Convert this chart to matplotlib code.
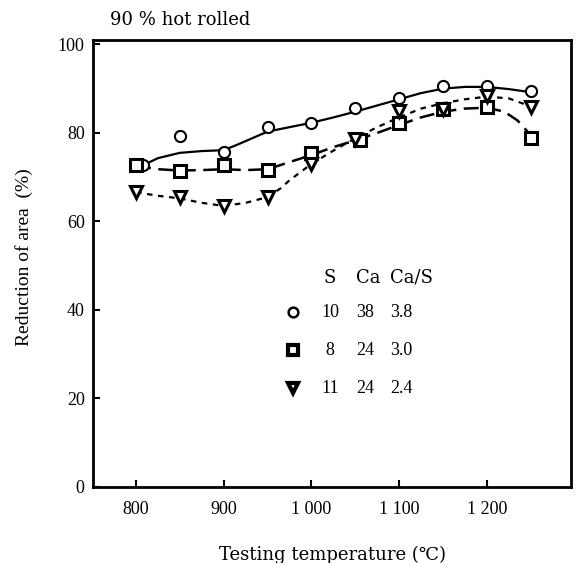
import numpy as np
import matplotlib
matplotlib.use("Agg")
import matplotlib.pyplot as plt

plt.rcParams['font.family'] = ['Liberation Serif', 'DejaVu Serif']

# measured points (testing temperature, reduction of area %)
circle_t = [808, 850, 900, 950, 1000, 1050, 1100, 1150, 1200, 1250]
circle_ra = [72.7, 79.2, 75.6, 81.3, 82.2, 85.6, 87.8, 90.7, 90.7, 89.4]
square_t = [800, 850, 900, 950, 1000, 1055, 1100, 1150, 1200, 1250]
square_ra = [72.7, 71.3, 72.7, 71.6, 75.4, 78.3, 82.2, 85.3, 85.8, 78.8]
tri_t = [800, 850, 900, 950, 1000, 1050, 1100, 1150, 1200, 1250]
tri_ra = [66.6, 65.5, 63.4, 65.5, 73.0, 78.6, 85.0, 85.5, 88.3, 85.8]

# hand-drawn trend curves
circle_curve_t = [808, 825, 850, 875, 900, 915, 950, 975, 1000, 1025, 1050, 1075, 1100,
                  1125, 1150, 1175, 1200, 1225, 1250]
circle_curve_ra = [72.7, 74.3, 75.5, 75.9, 76.1, 77.3, 80.3, 81.3, 82.3, 83.5, 84.8, 86.2,
                   87.6, 89.0, 90.0, 90.4, 90.4, 89.9, 89.2]
square_curve_t = [800, 825, 850, 875, 900, 925, 950, 975, 1000, 1025, 1050, 1075, 1100,
                  1125, 1150, 1175, 1200, 1220, 1235, 1250]
square_curve_ra = [72.5, 71.8, 71.5, 71.6, 71.8, 71.6, 71.8, 73.4, 75.0, 76.8, 78.3, 80.0,
                   81.8, 83.5, 84.8, 85.5, 85.7, 84.8, 82.8, 79.5]
tri_curve_t = [800, 825, 850, 875, 900, 925, 950, 965, 975, 1000, 1025, 1050, 1075, 1100,
               1125, 1150, 1175, 1200, 1225, 1250]
tri_curve_ra = [66.6, 65.8, 65.2, 64.2, 63.5, 64.2, 65.5, 67.5, 69.3, 73.0, 76.0, 78.8,
                81.3, 83.5, 85.5, 86.7, 87.6, 88.2, 87.8, 86.0]

legend_header = ["S", "Ca", "Ca/S"]
legend_rows = [["10", "38", "3.8"], ["8", "24", "3.0"], ["11", "24", "2.4"]]

xticks = [800, 900, 1000, 1100, 1200]
xtick_labels = ["800", "900", "1 000", "1 100", "1 200"]
yticks = [0, 20, 40, 60, 80, 100]

wide = ['DejaVu Serif', 'DejaVu Sans']

fig = plt.figure(figsize=(5.78, 5.63), dpi=100)
ax = fig.add_axes([0.161, 0.135, 0.827, 0.794])

ax.plot(circle_curve_t, circle_curve_ra, color='black', lw=1.6, ls='-', zorder=2)
ax.plot(square_curve_t, square_curve_ra, color='black', lw=1.8, ls=(0, (6, 3)), zorder=2)
ax.plot(tri_curve_t, tri_curve_ra, color='black', lw=1.6, ls=(0, (2.5, 2.5)), zorder=2)

ax.plot(circle_t, circle_ra, 'o', ms=8, mfc='white', mec='black', mew=1.5, ls='none', zorder=3)
ax.plot(square_t, square_ra, 's', ms=8, mfc='white', mec='black', mew=2.2, ls='none', zorder=3)
ax.plot(tri_t, tri_ra, 'v', ms=9, mfc='white', mec='black', mew=2.2, ls='none', zorder=3)

ax.set_xlim(751, 1296)
ax.set_ylim(0, 101)
ax.set_xticks(xticks)
ax.set_xticklabels(xtick_labels)
ax.set_yticks(yticks)
for s in ax.spines.values():
    s.set_linewidth(2)
ax.tick_params(direction='in', length=5, width=1.5, labelsize=13)
ax.tick_params(axis='x', pad=10)
ax.tick_params(axis='y', pad=6)

ax.set_xlabel("Testing temperature (\u2103)", fontsize=13, family=wide, labelpad=20)
ax.set_ylabel("Reduction of area  (%)", fontsize=14)
ax.yaxis.set_label_coords(-0.126, 0.515)
fig.text(0.19, 0.965, "90 % hot rolled", fontsize=13, family=wide, ha='left', va='center')

# in-plot key table
marker_x = 0.418
row_y = [0.391, 0.306, 0.221]
head_y = 0.468
col_x = [0.496, 0.550, 0.621]
col_ha = ['center', 'left', 'left']
for x, txt, ha in zip(col_x, legend_header, col_ha):
    ax.text(x, head_y, txt, transform=ax.transAxes, fontsize=13, family=wide,
            ha=ha, va='center')
for m, mew, y, row in zip(['o', 's', 'v'], [1.8, 3, 3], row_y, legend_rows):
    ax.plot([marker_x], [y], m, ms=7, mfc='white', mec='black', mew=mew,
            transform=ax.transAxes, clip_on=False)
    for x, txt, ha in zip(col_x, row, col_ha):
        ax.text(x, y, txt, transform=ax.transAxes, fontsize=13, ha=ha, va='center')

fig.savefig("out.png", dpi=100)
